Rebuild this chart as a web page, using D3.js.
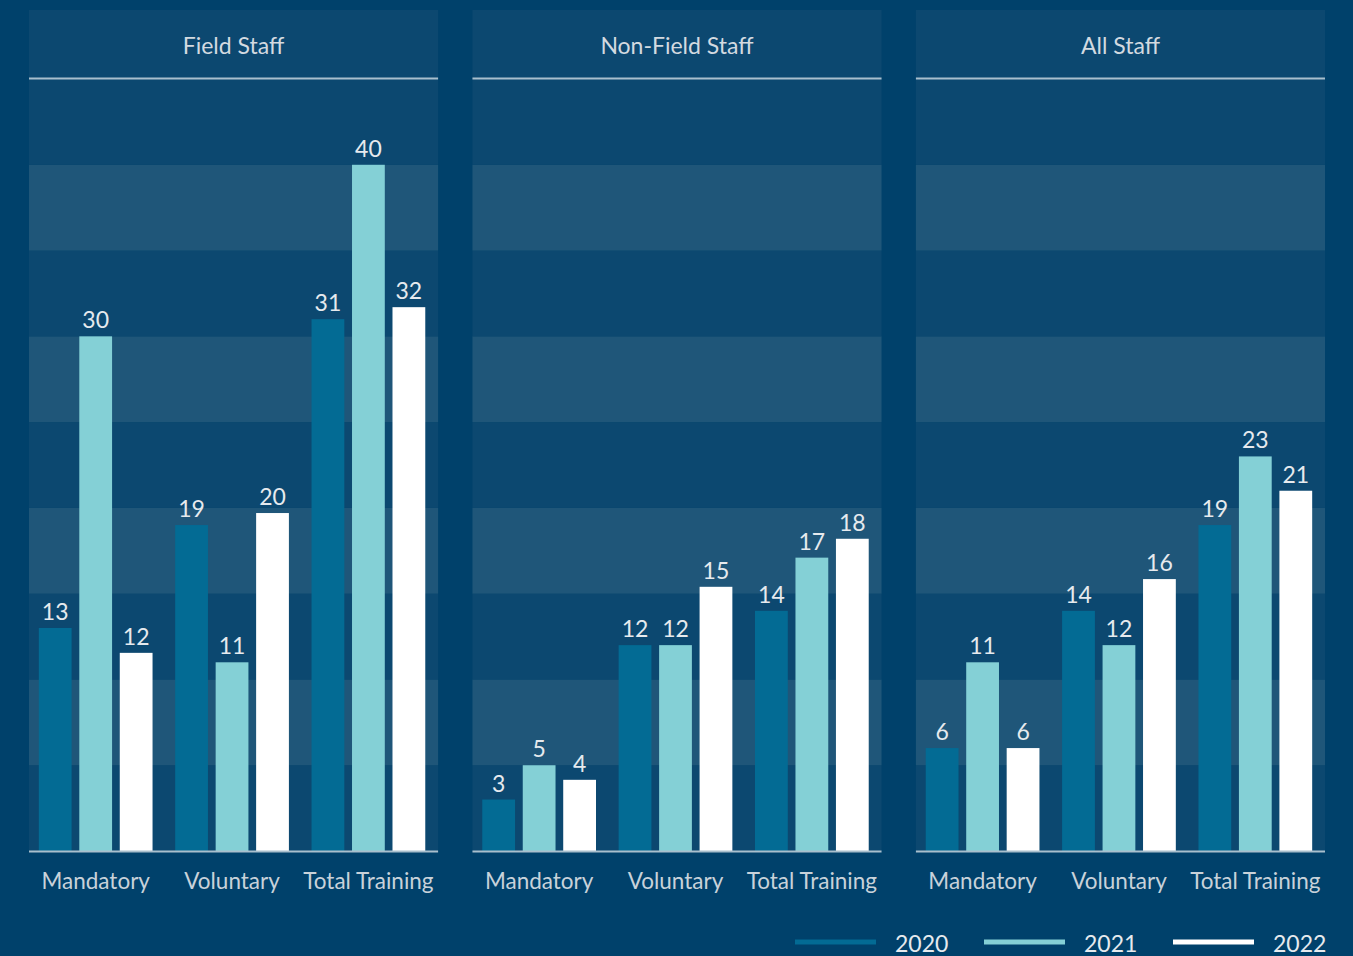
<!DOCTYPE html>
<html>
<head>
<meta charset="utf-8">
<script src="https://cdn.jsdelivr.net/npm/d3@7"></script>
<style>
  body { margin: 0; background: #00416b; }
  svg { display: block; }
  text { font-family: Lato, "Open Sans", sans-serif; }
</style>
</head>
<body>
<svg></svg>
<script>
// data
let panels = ["Field Staff", "Non-Field Staff", "All Staff"];
let categories = ["Mandatory", "Voluntary", "Total Training"];
let years = ["2020", "2021", "2022"];

// values[panel][category][year], bars drawn at the measured height, labels rounded
let fieldStaff = [[13, 30, 11.55], [19, 11, 19.7], [31, 40, 31.7]];
let nonFieldStaff = [[3, 5, 4.15], [12, 12, 15.4], [14, 17.1, 18.2]];
let allStaff = [[6, 11, 6], [14, 12, 15.85], [19, 23, 21]];
let panelValues = [fieldStaff, nonFieldStaff, allStaff];

let width = 1353;
let height = 956;

let colors = d3.scaleOrdinal().domain(years).range(["#036b94", "#84d0d6", "#ffffff"]);

let svg = d3.select("svg").attr("width", width).attr("height", height);

svg.append("rect").attr("width", width).attr("height", height).attr("fill", "#00416b");

// panel positions
let panelScale = d3.scaleBand().domain(panels).range([29, 1325]).paddingInner(0.0775);

let panelTop = 10;
let headerBottom = 79;
let baseline = 851;

let yScale = d3.scaleLinear().domain([0, 45]).range([baseline, headerBottom]);
let bandTicks = d3.range(0, 45, 5);

panels.forEach((name, pi) => {
  let x0 = panelScale(name);
  let w = panelScale.bandwidth();
  let g = svg.append("g").attr("transform", "translate(" + x0 + ",0)");

  // header
  g.append("rect")
    .attr("x", 0).attr("y", panelTop)
    .attr("width", w).attr("height", headerBottom - panelTop)
    .attr("fill", "#0c4870");
  g.append("text")
    .attr("x", w / 2).attr("y", 54)
    .attr("text-anchor", "middle")
    .attr("font-size", 23)
    .attr("fill", "#d3dae0")
    .text(name);

  // alternating bands
  g.selectAll(".band")
    .data(bandTicks)
    .enter()
    .append("rect")
    .attr("x", 0)
    .attr("y", (d) => yScale(d + 5))
    .attr("width", w)
    .attr("height", (d) => yScale(d) - yScale(d + 5))
    .attr("fill", (d) => ((d / 5) % 2 == 1 ? "#1f5679" : "#0c4870"));

  g.append("line")
    .attr("x1", 0).attr("x2", w)
    .attr("y1", headerBottom - 0.5).attr("y2", headerBottom - 0.5)
    .attr("stroke", "#a9bfcd").attr("stroke-width", 2);

  let xScale = d3.scaleBand().domain(categories).range([0, w]).paddingInner(0.166).paddingOuter(0.083);
  let innerScale = d3.scaleBand().domain(years).range([0, xScale.bandwidth()]).paddingInner(0.19);

  categories.forEach((cat, ci) => {
    let cg = g.append("g").attr("transform", "translate(" + (xScale(cat) - 1.5) + ",0)");
    let vals = years.map((yr, yi) => ({ year: yr, value: panelValues[pi][ci][yi] }));

    cg.selectAll("rect")
      .data(vals)
      .enter()
      .append("rect")
      .attr("x", (d) => innerScale(d.year))
      .attr("y", (d) => yScale(d.value))
      .attr("width", innerScale.bandwidth())
      .attr("height", (d) => baseline - yScale(d.value))
      .attr("fill", (d) => colors(d.year));

    cg.selectAll("text")
      .data(vals)
      .enter()
      .append("text")
      .attr("x", (d) => innerScale(d.year) + innerScale.bandwidth() / 2)
      .attr("y", (d) => yScale(d.value) - 8)
      .attr("text-anchor", "middle")
      .attr("font-size", 23)
      .attr("fill", "#e6eaee")
      .text((d) => Math.round(d.value));

    g.append("text")
      .attr("x", xScale(cat) + xScale.bandwidth() / 2 - 1.5)
      .attr("y", 889)
      .attr("text-anchor", "middle")
      .attr("font-size", 22.5)
      .attr("fill", "#c8d2da")
      .text(cat);
  });

  // baseline
  g.append("line")
    .attr("x1", 0).attr("x2", w)
    .attr("y1", baseline + 0.5).attr("y2", baseline + 0.5)
    .attr("stroke", "#a9bfcd").attr("stroke-width", 2);
});

// legend
let legendX = d3.scaleOrdinal().domain(years).range([795, 984, 1173]);
let legend = svg.selectAll(".legend")
  .data(years)
  .enter()
  .append("g")
  .attr("transform", (d) => "translate(" + legendX(d) + ",942)");

legend.append("line")
  .attr("x1", 0).attr("x2", 81)
  .attr("y1", 0).attr("y2", 0)
  .attr("stroke", (d) => colors(d))
  .attr("stroke-width", 5);

legend.append("text")
  .attr("x", 100).attr("y", 10)
  .attr("font-size", 23)
  .attr("fill", "#e6eaee")
  .text((d) => d);
</script>
</body>
</html>
